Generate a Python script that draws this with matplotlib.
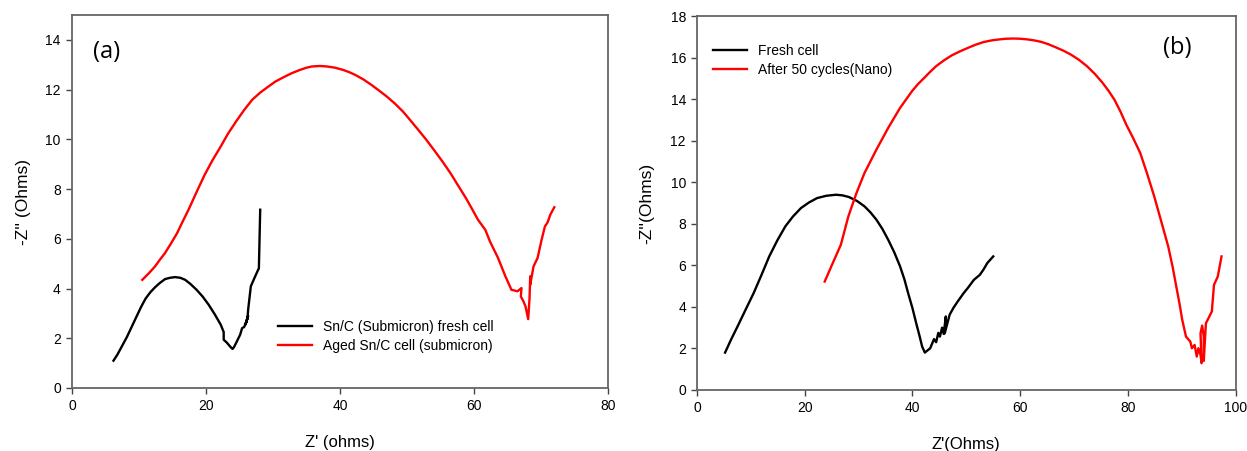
import matplotlib
matplotlib.use("Agg")
import matplotlib.pyplot as plt

plt.rcParams['font.family'] = ['Liberation Sans', 'DejaVu Sans']

# Panel (a)
a_fresh_x = [6.2, 6.8, 7.5, 8.2, 8.9, 9.6, 10.3, 11.0, 11.7, 12.4, 13.1, 13.9, 14.6, 15.4, 16.2, 16.9,
             17.7, 18.6, 19.5, 20.4, 21.3, 22.2, 22.65, 22.65, 23.1, 23.6, 23.97, 24.2, 24.5, 25.1,
             25.4, 25.7, 26.0, 26.3, 25.9, 26.2, 26.3, 26.7, 27.2, 27.8, 27.9, 28.1]
a_fresh_y = [1.10, 1.35, 1.70, 2.05, 2.45, 2.85, 3.25, 3.60, 3.85, 4.05, 4.22, 4.38, 4.43, 4.46, 4.43, 4.35,
             4.18, 3.95, 3.68, 3.35, 2.97, 2.55, 2.25, 1.94, 1.83, 1.67, 1.57, 1.65, 1.81, 2.14,
             2.41, 2.45, 2.65, 2.90, 2.55, 2.80, 3.15, 4.09, 4.40, 4.76, 4.80, 7.17]
a_aged_x = [10.5, 11.5, 12.4, 13.1, 13.9, 14.8, 15.7, 16.5, 17.4, 18.6, 19.8, 21.0, 22.2, 23.3, 24.5,
            25.7, 26.9, 28.1, 29.3, 30.4, 31.6, 32.8, 34.0, 35.0, 35.8, 37.0, 38.1, 39.3, 40.5,
            41.4, 42.3, 43.5, 44.7, 45.8, 47.0, 48.2, 49.4, 50.5, 51.7, 52.9, 54.1, 55.3, 56.5,
            57.6, 58.8, 59.7, 60.6, 61.7, 62.4, 63.6, 64.7, 65.6, 66.5,
            67.1, 67.0, 67.4, 67.7, 68.1, 68.3, 68.4, 68.4, 68.9, 69.5, 70.1, 70.6, 71.0, 71.4, 72.0]
a_aged_y = [4.35, 4.62, 4.89, 5.15, 5.43, 5.82, 6.23, 6.68, 7.17, 7.88, 8.57, 9.17, 9.71, 10.23, 10.72,
            11.18, 11.59, 11.88, 12.12, 12.33, 12.50, 12.66, 12.79, 12.88, 12.93, 12.95, 12.93, 12.88, 12.79,
            12.70, 12.59, 12.41, 12.19, 11.97, 11.72, 11.44, 11.12, 10.77, 10.38, 9.98, 9.55, 9.11, 8.64,
            8.16, 7.64, 7.21, 6.77, 6.36, 5.89, 5.23, 4.49, 3.95, 3.89,
            4.02, 3.68, 3.48, 3.28, 2.77, 3.60, 4.49, 4.15, 4.89, 5.23, 5.96, 6.50, 6.66, 6.97, 7.27]

# Panel (b)
b_fresh_x = [5.2, 6.3, 7.5, 9.0, 10.5, 12.0, 13.4, 14.9, 16.4, 17.8, 19.3, 20.8, 22.3, 24.0, 25.8, 27.0,
             28.2, 29.7, 31.1, 32.2, 33.3, 34.4, 35.5, 36.6, 37.7, 38.5, 39.2, 40.0, 40.7, 41.3, 41.8,
             42.3, 43.3, 44.0, 44.4, 44.8, 45.1, 45.5, 45.8, 46.2, 46.0, 46.9, 47.6, 48.4, 49.5, 50.4,
             51.4, 52.5, 53.2, 53.9, 55.0]
b_fresh_y = [1.80, 2.42, 3.05, 3.86, 4.66, 5.56, 6.43, 7.20, 7.88, 8.35, 8.76, 9.03, 9.24, 9.35, 9.40, 9.37,
             9.29, 9.10, 8.84, 8.55, 8.20, 7.76, 7.23, 6.64, 5.95, 5.33, 4.66, 3.94, 3.21, 2.62, 2.09,
             1.80, 2.01, 2.45, 2.30, 2.75, 2.57, 3.00, 2.70, 3.54, 2.73, 3.62, 3.95, 4.26, 4.66, 4.95,
             5.30, 5.54, 5.80, 6.11, 6.43]
b_aged_x = [23.7, 25.2, 26.7, 28.1, 29.6, 31.1, 33.3, 35.5, 37.7, 39.9, 41.0, 42.2, 43.3, 44.4, 45.8,
            47.3, 48.8, 50.3, 51.7, 53.2, 54.7, 56.2, 57.4, 58.7, 60.0, 61.3, 62.6, 63.9, 65.2,
            66.5, 68.0, 69.4, 70.9, 72.4, 73.9, 75.3, 76.4, 77.5, 78.6, 79.7, 81.0, 82.3, 83.6,
            84.9, 86.2, 87.5, 88.3, 89.0, 89.6, 90.1,
            90.8, 91.6, 91.9, 92.4, 92.8, 93.1, 93.5, 93.7, 93.5, 93.8, 94.1, 94.1, 94.5, 95.6, 96.0,
            96.7, 97.4]
b_aged_y = [5.22, 6.11, 6.99, 8.36, 9.48, 10.45, 11.57, 12.62, 13.58, 14.38, 14.72, 15.03, 15.32, 15.59, 15.86,
            16.11, 16.30, 16.47, 16.62, 16.75, 16.83, 16.88, 16.91, 16.92, 16.91, 16.88, 16.83, 16.76, 16.65,
            16.51, 16.34, 16.15, 15.90, 15.59, 15.21, 14.79, 14.41, 13.98, 13.42, 12.78, 12.12, 11.41, 10.40,
            9.32, 8.12, 6.91, 5.95, 4.98, 4.15, 3.38,
            2.57, 2.33, 2.01, 2.17, 1.61, 2.01, 1.69, 1.29, 2.73, 3.10, 2.57, 1.40, 3.21, 3.78, 5.06,
            5.46, 6.43]

fig = plt.figure(figsize=(12.47, 4.51), dpi=100)
ax1 = fig.add_axes([0.0577, 0.1397, 0.4298, 0.827])
ax2 = fig.add_axes([0.5590, 0.1353, 0.4318, 0.829])

spine_col = '#666666'
for ax in (ax1, ax2):
    for s in ax.spines.values():
        s.set_color(spine_col)
        s.set_linewidth(1.3)
    ax.tick_params(axis='both', which='both', direction='out', length=4, width=1,
                   color='#444444', labelsize=10, top=False, right=False, pad=4)

lw = 1.7
ax1.plot(a_fresh_x, a_fresh_y, color='black', lw=lw, label='Sn/C (Submicron) fresh cell')
ax1.plot(a_aged_x, a_aged_y, color='red', lw=lw, label='Aged Sn/C cell (submicron)')
ax1.set_xlim(0, 80)
ax1.set_ylim(0, 15)
ax1.set_xticks([0, 20, 40, 60, 80])
ax1.set_yticks([0, 2, 4, 6, 8, 10, 12, 14])
ax1.set_xlabel("Z' (ohms)", fontsize=12, labelpad=16)
ax1.set_ylabel("-Z'' (Ohms)", fontsize=12.5, labelpad=10)
ax1.text(0.04, 0.9, '(a)', transform=ax1.transAxes, fontsize=17,
         family=['Open Sans', 'DejaVu Sans'], va='center', ha='left')
ax1.legend(loc='lower left', bbox_to_anchor=(0.375, 0.08), frameon=False, fontsize=10,
           handlelength=2.4, handletextpad=0.8, labelspacing=0.35, borderaxespad=0)

ax2.plot(b_fresh_x, b_fresh_y, color='black', lw=lw, label='Fresh cell')
ax2.plot(b_aged_x, b_aged_y, color='red', lw=lw, label='After 50 cycles(Nano)')
ax2.set_xlim(0, 100)
ax2.set_ylim(0, 18)
ax2.set_xticks([0, 20, 40, 60, 80, 100])
ax2.set_yticks([0, 2, 4, 6, 8, 10, 12, 14, 16, 18])
ax2.set_xlabel("Z'(Ohms)", fontsize=12, labelpad=16)
ax2.set_ylabel("-Z''(Ohms)", fontsize=12.5, labelpad=12)
ax2.text(0.865, 0.915, '(b)', transform=ax2.transAxes, fontsize=17,
         family=['Open Sans', 'DejaVu Sans'], va='center', ha='left')
ax2.legend(loc='upper left', bbox_to_anchor=(0.02, 0.94), frameon=False, fontsize=10,
           handlelength=2.4, handletextpad=0.8, labelspacing=0.35, borderaxespad=0)

fig.savefig('out.png', dpi=100)
